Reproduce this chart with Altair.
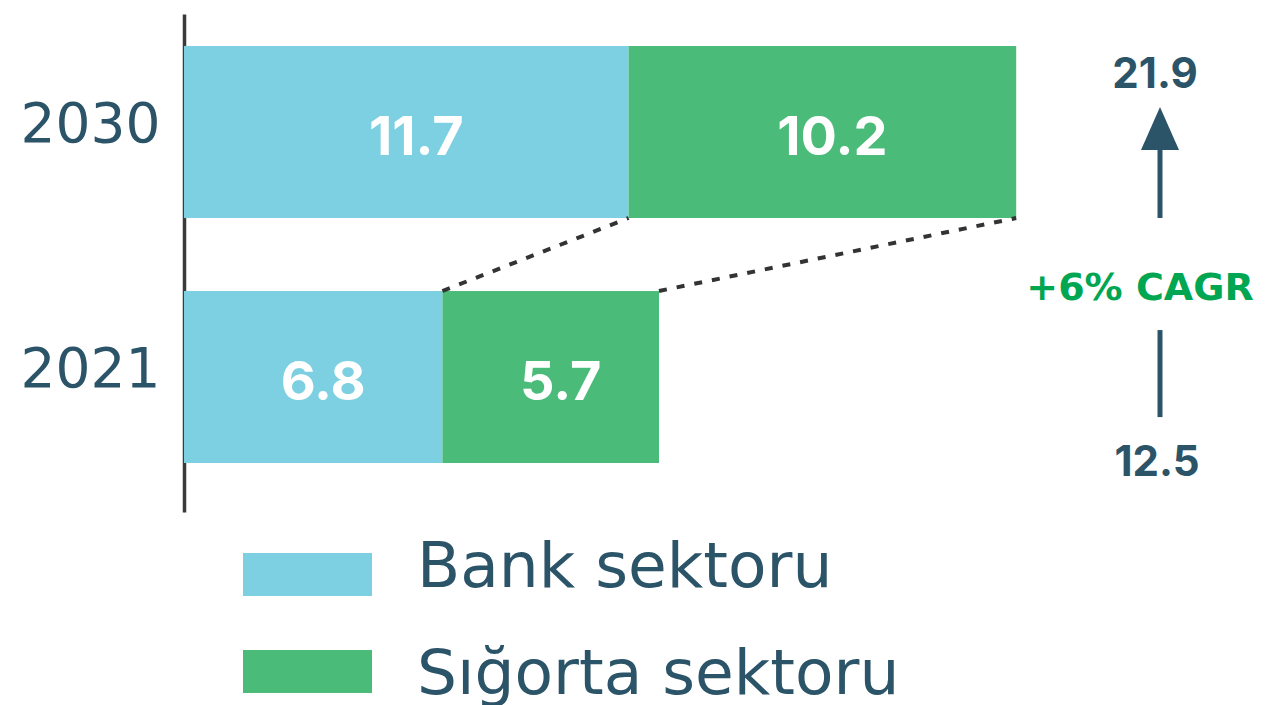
import altair as alt
import pandas as pd

# ---- data ----
years = ["2030", "2021"]
bank = [11.7, 6.8]
sigorta = [10.2, 5.7]
series = ["Bank sektoru", "Sığorta sektoru"]

colors = ["#7dd0e1", "#4bbb7a"]
FONT = "Inter"
FONT_REG = "DejaVu Sans"
TEXT = "#2c5468"
GREEN_TXT = "#00a651"
LINE = "#3a3a3a"

rows = []
for y, b, s in zip(years, bank, sigorta):
    rows.append(dict(Year=y, Series=series[0], start=0.0, end=b, value=b, mid=b / 2))
    rows.append(dict(Year=y, Series=series[1], start=b, end=round(b + s, 1), value=s, mid=b + s / 2))
bars_df = pd.DataFrame(rows)

totals = [round(b + s, 1) for b, s in zip(bank, sigorta)]
tot_df = pd.DataFrame({"Year": years, "total": totals})

conn_df = pd.DataFrame({
    "x_from": [bank[1], totals[1]],
    "x_to": [bank[0], totals[0]],
    "y_from": [years[1]] * 2,
    "y_to": [years[0]] * 2,
})

cagr = (totals[0] / totals[1]) ** (1 / (int(years[0]) - int(years[1]))) - 1
cagr_df = pd.DataFrame({"Year": [years[1]], "label": [f"+{cagr * 100:.0f}% CAGR"]})
leg_df = pd.DataFrame({"Series": series})

# ---- scales ----
x_scale = alt.Scale(domain=[0, 28], range=[0, 1064])
year_scale = alt.Scale(type="band", domain=years, range=[6, 504], paddingInner=73 / 245,
                       paddingOuter=0.1653, align=32 / 81)
color_scale = alt.Scale(domain=series, range=colors)

def X(field):
    return alt.X(field, scale=x_scale, axis=None)

def YY(field, bp=0.5):
    return alt.Y(field, scale=year_scale, axis=None, bandPosition=bp)

bars = alt.Chart(bars_df).mark_bar().encode(
    x=X("start:Q"),
    x2="end:Q",
    y=alt.Y("Year:N", scale=year_scale, title=None,
            axis=alt.Axis(ticks=False, tickSize=0, labelFontSize=55, labelFont=FONT_REG,
                          labelColor=TEXT, labelPadding=94, labelAlign="center",
                          labelBaseline="middle", labelOffset=-7, domainColor=LINE,
                          domainWidth=3.5, grid=False)),
    color=alt.Color("Series:N", scale=color_scale, legend=None),
)

bar_labels = alt.Chart(bars_df).mark_text(
    font=FONT, fontWeight="bold", fontSize=54, color="white",
    baseline="middle", align="center", dx=10, dy=7,
).encode(
    x=X("mid:Q"),
    y=YY("Year:N"),
    text=alt.Text("value:Q", format=".1f"),
)

connectors = alt.Chart(conn_df).mark_rule(
    color="#333333", strokeWidth=4, strokeDash=[8, 10]
).encode(
    x=X("x_from:Q"),
    x2="x_to:Q",
    y=YY("y_from:N", 0),
    y2=alt.Y2("y_to:N", bandPosition=1),
)

top_total = tot_df[tot_df.Year == years[0]]
bot_total = tot_df[tot_df.Year == years[1]]

total_top_txt = alt.Chart(top_total).mark_text(
    font=FONT, fontWeight="bold", fontSize=42, color=TEXT, baseline="middle", align="center"
).encode(x=alt.value(971), y=YY("Year:N", 0.169), text=alt.Text("total:Q", format=".1f"))

total_bot_txt = alt.Chart(bot_total).mark_text(
    font=FONT, fontWeight="bold", fontSize=42, color=TEXT, baseline="middle", align="center"
).encode(x=alt.value(973), y=YY("Year:N", 1.0), text=alt.Text("total:Q", format=".1f"))

arrow_line = alt.Chart(top_total).mark_rule(color=TEXT, strokeWidth=5).encode(
    x=alt.value(976), y=YY("Year:N", 1.0), y2=alt.Y2("Year:N", bandPosition=0.593)
)

arrow_head = alt.Chart(top_total).mark_point(
    shape="M0,-1.13L-1,1.13L1,1.13Z", size=1444, filled=True, opacity=1, color=TEXT
).encode(x=alt.value(976), y=YY("Year:N", 0.48))

low_line = alt.Chart(bot_total).mark_rule(color=TEXT, strokeWidth=5).encode(
    x=alt.value(976), y=YY("Year:N", 0.227), y2=alt.Y2("Year:N", bandPosition=0.733)
)

cagr_txt = alt.Chart(cagr_df).mark_text(
    font=FONT_REG, fontWeight="bold", fontSize=38, color=GREEN_TXT, baseline="middle",
    align="center", dy=-2,
).encode(x=alt.value(956), y=YY("Year:N", 0), text="label:N")

leg_rect = alt.Chart(leg_df).mark_rect().encode(
    x=alt.value(59), x2=alt.value(188),
    y=alt.Y("Series:N", scale=alt.Scale(type="band", domain=series, range=[545, 685],
                                         paddingInner=54 / 97, paddingOuter=0), axis=None),
    color=alt.Color("Series:N", scale=color_scale, legend=None),
)

leg_text = alt.Chart(leg_df).mark_text(
    font=FONT_REG, fontSize=63, color=TEXT, align="left", baseline="middle"
).encode(
    x=alt.value(233),
    y=alt.Y("Series:N", scale=alt.Scale(type="point", domain=series, range=[560, 667],
                                         padding=0), axis=None),
    text="Series:N",
)

chart = alt.layer(
    bars, bar_labels, connectors, arrow_line, arrow_head, low_line,
    total_top_txt, total_bot_txt, cagr_txt, leg_rect, leg_text,
).resolve_scale(y="independent").properties(
    width=1074, height=697,
    padding={"left": 176, "top": 0, "right": 0, "bottom": 0},
    autosize=alt.AutoSizeParams(type="none"),
    background="white",
).configure_view(stroke=None)

chart.save("out.html", embed_options={"renderer": "svg", "actions": False})
